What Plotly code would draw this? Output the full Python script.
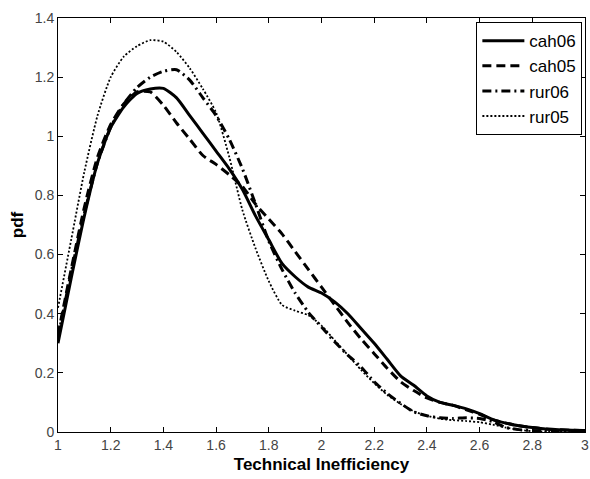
import plotly.graph_objects as go

x_vals = [1.0, 1.05, 1.1, 1.15, 1.2, 1.25, 1.3, 1.35, 1.4, 1.45, 1.5, 1.55, 1.6, 1.65, 1.7,
          1.75, 1.8, 1.85, 1.9, 1.95, 2.0, 2.05, 2.1, 2.15, 2.2, 2.25, 2.3, 2.35, 2.4, 2.45,
          2.5, 2.55, 2.6, 2.65, 2.7, 2.75, 2.8, 2.85, 2.9, 2.95, 3.0]

cah06 = [0.30, 0.52, 0.73, 0.91, 1.03, 1.10, 1.145, 1.16, 1.162, 1.13, 1.07, 1.01, 0.95, 0.89, 0.82,
         0.73, 0.65, 0.57, 0.525, 0.49, 0.47, 0.44, 0.40, 0.35, 0.30, 0.245, 0.19, 0.158, 0.122, 0.10,
         0.09, 0.078, 0.062, 0.042, 0.03, 0.021, 0.015, 0.01, 0.008, 0.006, 0.005]

cah05 = [0.33, 0.55, 0.76, 0.93, 1.04, 1.11, 1.15, 1.15, 1.105, 1.045, 0.99, 0.935, 0.905, 0.87, 0.83,
         0.77, 0.72, 0.67, 0.61, 0.55, 0.49, 0.43, 0.37, 0.315, 0.265, 0.215, 0.17, 0.14, 0.115, 0.10,
         0.09, 0.075, 0.06, 0.042, 0.03, 0.021, 0.015, 0.01, 0.008, 0.006, 0.005]

rur06 = [0.32, 0.54, 0.74, 0.91, 1.03, 1.11, 1.165, 1.20, 1.22, 1.225, 1.19, 1.13, 1.07, 0.99, 0.89,
         0.77, 0.645, 0.55, 0.47, 0.405, 0.355, 0.305, 0.26, 0.22, 0.17, 0.13, 0.097, 0.068, 0.055, 0.048,
         0.046, 0.048, 0.046, 0.035, 0.015, 0.008, 0.005, 0.004, 0.003, 0.003, 0.003]

rur05 = [0.42, 0.65, 0.88, 1.07, 1.20, 1.27, 1.305, 1.325, 1.32, 1.285, 1.23, 1.16, 1.08, 0.93, 0.75,
         0.62, 0.51, 0.43, 0.41, 0.395, 0.36, 0.31, 0.26, 0.21, 0.165, 0.125, 0.095, 0.07, 0.055, 0.045,
         0.04, 0.037, 0.033, 0.025, 0.015, 0.007, 0.003, 0.002, 0.001, 0.001, 0.001]

series = [
    ("cah06", cah06, "solid", 3),
    ("cah05", cah05, "9px,5px", 3),
    ("rur06", rur06, "9px,4px,2px,4px", 3),
    ("rur05", rur05, "2px,2px", 1.8),
]

fig = go.Figure()
for name, vals, dash, w in series:
    fig.add_trace(go.Scatter(
        x=x_vals, y=vals, mode="lines", name=name,
        line=dict(color="black", width=w, dash=dash, shape="spline", smoothing=0.6),
    ))

axis_common = dict(
    showline=True, linecolor="black", linewidth=1, mirror="ticks",
    ticks="inside", ticklen=5, tickcolor="black", showgrid=False, zeroline=False,
    tickfont=dict(family="Liberation Sans, Arial", size=14, color="#444444"),
    ticklabeloverflow="allow",
)

fig.update_layout(
    width=590, height=479,
    margin=dict(l=58, r=5, t=18, b=47, autoexpand=False),
    paper_bgcolor="white", plot_bgcolor="white",
    showlegend=True,
    legend=dict(
        x=0.995, y=0.99, xanchor="right", yanchor="top",
        bgcolor="white", bordercolor="black", borderwidth=1,
        font=dict(family="Liberation Sans, Arial", size=17, color="black"),
        itemwidth=42, tracegroupgap=0,
    ),
    xaxis=dict(range=[1, 3], tickvals=[1, 1.2, 1.4, 1.6, 1.8, 2, 2.2, 2.4, 2.6, 2.8, 3],
               title=dict(text="<b>Technical Inefficiency</b>", standoff=6,
                          font=dict(family="Liberation Sans, Arial", size=17, color="black")),
               **axis_common),
    yaxis=dict(range=[0, 1.4], tickvals=[0, 0.2, 0.4, 0.6, 0.8, 1, 1.2, 1.4],
               title=dict(text="<b>pdf</b>", standoff=6,
                          font=dict(family="Liberation Sans, Arial", size=17, color="black")),
               **axis_common),
)

fig.write_html("out.html")
